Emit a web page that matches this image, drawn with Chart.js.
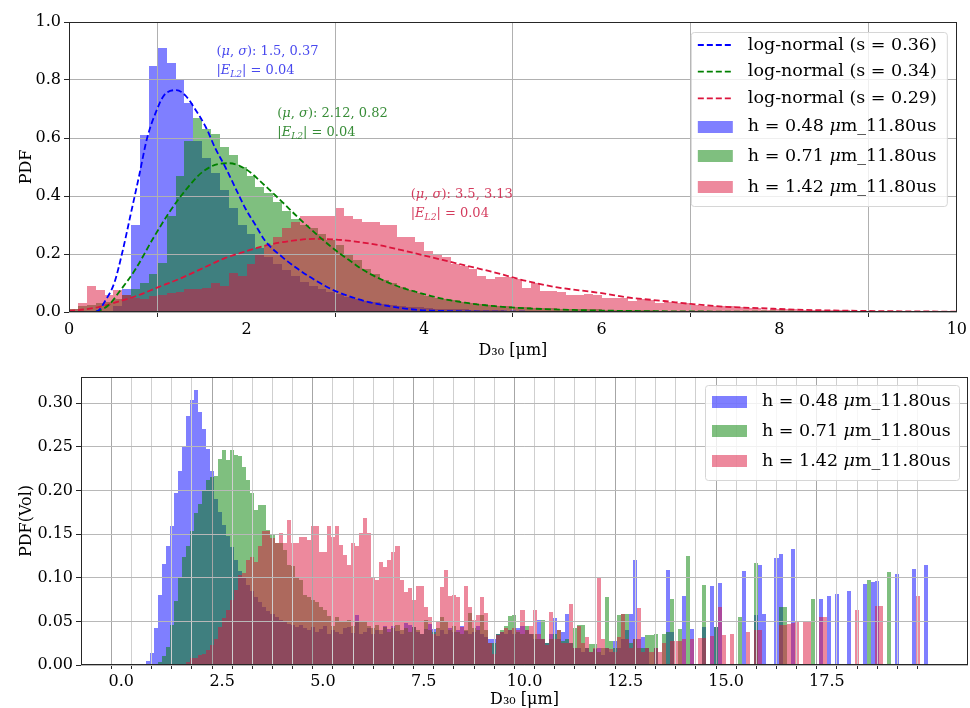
<!DOCTYPE html>
<html><head><meta charset="utf-8">
<script src="https://cdn.jsdelivr.net/npm/chart.js@4/dist/chart.umd.min.js"></script>
<style>
html,body{margin:0;padding:0;background:#fff;}
#wrap{position:relative;width:970px;height:708px;overflow:hidden;background:#fff;}
#c1{position:absolute;left:0;top:0;}
#c2{position:absolute;left:0;top:364px;}
</style></head><body>
<div id="wrap"><canvas id="c1" width="970" height="364"></canvas><canvas id="c2" width="970" height="344"></canvas></div>
<script>
// ---------------- DATA ----------------
const seriesLabels = ['h = 0.48 μm_11.80us', 'h = 0.71 μm_11.80us', 'h = 1.42 μm_11.80us'];
const fitLabels = ['log-normal (s = 0.36)', 'log-normal (s = 0.34)', 'log-normal (s = 0.29)'];
const binWidth = 0.1;

// top panel: PDF histograms, bins of 0.1 from 0 to 10
const topBlue = [0,0,0,0,0,0.02,0.08,0.30,0.61,0.85,
 0.91,0.86,0.80,0.72,0.59,0.53,0.48,0.42,0.36,0.30,
 0.27,0.22,0.19,0.165,0.145,0.125,0.105,0.09,0.08,0.07,
 0.062,0.052,0.045,0.038,0.033,0.028,0.024,0.02,0.018,0.016,
 0.014,0.012,0.011,0.01,0.009,0.008,0.007,0.006,0.006,0.005,
 0.005,0.004,0.004,0.003,0.003,0.003,0.002,0.002,0.002,0.002,
 0.001,0.001,0.001,0.001,0.001,0.001,0.001,0.001,0.001,0.001,
 0,0,0,0,0,0,0,0,0,0, 0,0,0,0,0,0,0,0,0,0, 0,0,0,0,0,0,0,0,0,0];
const topGreen = [0.01,0.02,0.025,0.03,0.035,0.045,0.06,0.08,0.10,0.13,
 0.17,0.33,0.47,0.59,0.67,0.63,0.615,0.57,0.54,0.50,
 0.47,0.43,0.41,0.38,0.35,0.32,0.30,0.29,0.27,0.25,
 0.23,0.20,0.18,0.15,0.13,0.11,0.10,0.085,0.075,0.065,
 0.055,0.05,0.045,0.04,0.035,0.03,0.028,0.025,0.022,0.02,
 0.018,0.017,0.015,0.014,0.013,0.012,0.011,0.01,0.01,0.009,
 0.008,0.008,0.007,0.007,0.006,0.006,0.005,0.005,0.005,0.004,
 0.004,0.004,0.003,0.003,0.003,0.003,0.002,0.002,0.002,0.002,
 0.002,0.002,0.001,0.001,0.001,0.001,0.001,0.001,0.001,0.001,
 0,0,0,0,0,0,0,0,0,0];
const topRed = [0.01,0.03,0.09,0.075,0.06,0.075,0.06,0.05,0.045,0.055,
 0.06,0.067,0.07,0.078,0.08,0.084,0.10,0.09,0.136,0.125,
 0.165,0.20,0.23,0.26,0.29,0.31,0.33,0.33,0.33,0.33,
 0.36,0.33,0.32,0.31,0.31,0.30,0.30,0.26,0.26,0.24,
 0.21,0.195,0.19,0.165,0.16,0.15,0.125,0.113,0.119,0.119,
 0.115,0.084,0.10,0.073,0.073,0.07,0.06,0.059,0.061,0.06,
 0.05,0.05,0.048,0.038,0.045,0.042,0.032,0.033,0.03,0.032,
 0.025,0.022,0.02,0.02,0.02,0.016,0.015,0.014,0.006,0.01,
 0.01,0.009,0.008,0.008,0.007,0.007,0.006,0.006,0.005,0.005,
 0.005,0.004,0.004,0.004,0.003,0.003,0.003,0.003,0.002,0.002];

// top panel: fitted log-normal curves
const blueFitX = [0,0.2,0.32,0.41,0.51,0.6,0.69,0.79,0.88,0.98,1.07,1.21,1.31,1.43,1.54,1.65,1.76,1.88,1.99,2.1,2.21,2.4,2.58,2.77,2.96,3.15,3.33,3.52,3.71,3.9,4.08,4.5,5,6,7,8,9,10];
const blueFitY = [0,0,0.003,0.04,0.10,0.205,0.33,0.47,0.60,0.69,0.747,0.765,0.747,0.695,0.638,0.563,0.50,0.424,0.355,0.30,0.245,0.19,0.148,0.11,0.078,0.055,0.038,0.025,0.015,0.008,0.005,0.002,0.001,0,0,0,0,0];
const greenFitX = [0,0.2,0.32,0.45,0.56,0.75,0.94,1.13,1.31,1.5,1.69,1.8,1.99,2.21,2.4,2.58,2.77,2.96,3.15,3.33,3.52,3.71,3.9,4.08,4.25,4.46,4.8,5.2,6,7,8,9,10];
const greenFitY = [0,0,0.003,0.025,0.067,0.148,0.25,0.344,0.419,0.482,0.511,0.513,0.493,0.435,0.38,0.326,0.273,0.223,0.18,0.142,0.112,0.088,0.07,0.055,0.043,0.032,0.02,0.012,0.005,0.002,0.001,0,0];
const redFitX = [0,0.2,0.4,0.6,0.8,1.0,1.25,1.5,1.75,2.0,2.25,2.5,2.75,3.0,3.25,3.5,3.75,4.0,4.4,4.8,5.15,5.5,6.0,6.3,6.7,7.0,7.4,7.8,8.2,8.9,10];
const redFitY = [0.003,0.01,0.022,0.04,0.06,0.085,0.115,0.15,0.185,0.21,0.232,0.245,0.252,0.25,0.242,0.23,0.213,0.195,0.165,0.136,0.107,0.085,0.065,0.05,0.038,0.028,0.018,0.013,0.008,0.004,0.001];

// bottom panel: PDF(Vol) histograms, bins of 0.1 from 0 to 20
const botBlue = [0,0,0,0,0,0,0.005,0.014,0.042,0.08,
 0.116,0.136,0.159,0.197,0.222,0.25,0.285,0.304,0.315,0.29,
 0.27,0.247,0.222,0.19,0.175,0.16,0.148,0.135,0.12,0.108,
 0.1,0.092,0.085,0.078,0.072,0.066,0.062,0.058,0.055,0.052,
 0.05,0.047,0.046,0.044,0.046,0.042,0.04,0.043,0.038,0.041,
 0.045,0.036,0.04,0.038,0.035,0.042,0.044,0.037,0.057,0.036,
 0.038,0.042,0.035,0.04,0.036,0.045,0.041,0.045,0.039,0.036,
 0.048,0.046,0.043,0.038,0.035,0.041,0.047,0.041,0.033,0.04,
 0.036,0.042,0.038,0.04,0.045,0.039,0.036,0.038,0.045,0.036,
 0.032,0.03,0.03,0.036,0.038,0.035,0.04,0.036,0.042,0.045,
 0.04,0.035,0.03,0.052,0.03,0.025,0.035,0.054,0.03,0.038,
 0.058,0.025,0.02,0.02,0.015,0.02,0.015,0.018,0.02,0.012,
 0.02,0.015,0.027,0.02,0.03,0.04,0.059,0.12,0.03,0.032,
 0.02,0,0.02,0,0,0.109,0.038,0,0,0.079,
 0,0.041,0,0,0.044,0,0.091,0.044,0.094,0,
 0,0,0,0,0.108,0,0,0.057,0.115,0.058,
 0,0,0.123,0.127,0,0,0.133,0,0,0,
 0,0,0,0.076,0,0.079,0,0.081,0,0,
 0.085,0,0,0,0.093,0,0.095,0.096,0,0,
 0,0,0.104,0,0,0,0.11,0,0,0.115];
const botGreen = [0,0,0,0,0,0,0,0,0,0.003,
 0.01,0.021,0.046,0.073,0.1,0.124,0.136,0.153,0.174,0.185,
 0.2,0.212,0.215,0.216,0.236,0.246,0.235,0.246,0.241,0.239,
 0.227,0.212,0.197,0.178,0.183,0.183,0.155,0.149,0.14,0.14,
 0.132,0.115,0.113,0.1,0.097,0.08,0.078,0.075,0.072,0.067,
 0.063,0.056,0.045,0.055,0.05,0.05,0.052,0.045,0.05,0.05,
 0.05,0.045,0.042,0.046,0.04,0.044,0.038,0.042,0.046,0.04,
 0.042,0.038,0.044,0.04,0.036,0.052,0.04,0.038,0.042,0.055,
 0.05,0.04,0.045,0.038,0.036,0.04,0.06,0.042,0.04,0.057,
 0.04,0.025,0.025,0.035,0.04,0.045,0.056,0.057,0.038,0.035,
 0.045,0.035,0.035,0.03,0.052,0.025,0.03,0.035,0.04,0.028,
 0.03,0.025,0.042,0.046,0.046,0.02,0.024,0.024,0.015,0.02,
 0.078,0.027,0.02,0.057,0.059,0.059,0.025,0.03,0.02,0.02,
 0.034,0.034,0.036,0,0.036,0.038,0.076,0,0.041,0,
 0.125,0,0,0,0.092,0,0,0.044,0,0,
 0,0,0,0.055,0,0,0,0.117,0,0,
 0,0,0,0.067,0.067,0,0,0,0,0,
 0,0.076,0,0,0,0,0,0,0,0,
 0,0,0,0,0,0.097,0,0,0,0,
 0.106,0,0,0,0,0,0,0,0,0];
const botRed = [0,0,0,0,0,0,0,0,0,0,
 0,0,0,0,0,0,0.003,0.008,0.008,0.011,
 0.013,0.017,0.023,0.03,0.044,0.054,0.063,0.075,0.086,0.103,
 0.105,0.12,0.124,0.118,0.136,0.153,0.153,0.145,0.14,0.151,
 0.14,0.166,0.14,0.14,0.147,0.147,0.143,0.159,0.159,0.13,
 0.13,0.159,0.147,0.159,0.138,0.126,0.115,0.14,0.136,0.151,
 0.169,0.151,0.101,0.097,0.118,0.112,0.12,0.13,0.136,0.097,
 0.084,0.088,0.075,0.091,0.091,0.067,0.055,0.036,0.05,0.089,
 0.109,0.079,0.08,0.078,0.044,0.091,0.067,0.052,0.057,0.078,
 0.06,0.025,0.013,0.034,0.038,0.042,0.04,0.042,0.04,0.063,
 0.04,0.045,0.063,0.035,0.03,0.023,0.061,0.03,0.04,0.025,
 0.025,0.07,0.02,0.045,0.025,0.032,0.015,0.02,0.1,0.03,
 0.02,0.018,0.015,0.032,0.059,0.03,0.02,0.03,0.065,0.015,
 0.02,0.015,0.02,0.015,0.025,0,0.027,0.027,0.028,0.03,
 0,0.03,0,0.031,0.031,0,0.033,0,0.067,0.034,
 0,0.035,0,0,0,0.038,0,0.04,0.04,0,
 0,0,0,0.046,0.046,0.047,0.048,0.049,0,0.05,
 0.05,0,0,0.055,0.055,0,0,0,0,0,
 0,0,0.063,0,0,0,0,0.068,0.068,0,
 0,0,0,0,0,0,0,0.079,0,0];

const topXTickStep = 2, topYTickStep = 0.2;
const botMinorStep = 0.5, botMinorCount = 40;
const botMajorLabels = [0, 2.5, 5, 7.5, 10, 12.5, 15, 17.5];
const fitNotes = [
  {x: 1.66, y: 0.886, lines: ['1.5, 0.37', '0.04'], color: 'rgba(40,40,235,0.85)'},
  {x: 2.346, y: 0.672, lines: ['2.12, 0.82', '0.04'], color: 'rgba(20,120,20,0.85)'},
  {x: 3.849, y: 0.393, lines: ['3.5, 3.13', '0.04'], color: 'rgba(205,25,65,0.85)'}
];

// ---------------- HELPERS ----------------
const FONT = "'DejaVu Serif', serif";
Chart.defaults.font.family = FONT;
Chart.defaults.font.size = 16;
Chart.defaults.color = '#000';

const C = {blue: '0,0,255', green: '0,128,0', red: '220,20,60'};
const binPts = vals => vals.map((v, i) => ({x: (i + 0.5) * binWidth, y: v}));
const curvePts = (xs, ys) => xs.map((x, i) => ({x, y: ys[i]}));

function barDS(label, vals, col, order) {
  return {type: 'bar', label, data: binPts(vals), backgroundColor: 'rgba(' + col + ',0.5)',
    borderWidth: 0, barPercentage: 1, categoryPercentage: 1, grouped: false, inflateAmount: 0, order};
}
function lineDS(label, xs, ys, col) {
  return {type: 'line', label, data: curvePts(xs, ys), borderColor: 'rgb(' + col + ')', borderWidth: 1.8,
    borderDash: [6, 3], pointRadius: 0, fill: false, cubicInterpolationMode: 'monotone', order: 0};
}

function drawRich(ctx, parts, x, y, size, color, baseline) {
  ctx.save();
  ctx.fillStyle = color; ctx.textBaseline = baseline || 'middle'; ctx.textAlign = 'left';
  let cx = x;
  for (const p of parts) {
    const o = typeof p === 'string' ? {t: p} : p;
    const s = o.sub ? size * 0.7 : size;
    ctx.font = (o.i ? 'italic ' : '') + s + 'px ' + FONT;
    ctx.fillText(o.t, cx, y + (o.sub ? size * 0.28 : 0));
    cx += ctx.measureText(o.t).width;
  }
  ctx.restore();
}
function muParts(label) {
  const out = [];
  label.split('μ').forEach((s, i) => { if (i > 0) out.push({t: 'μ', i: true}); if (s) out.push(s); });
  return out;
}
function roundRect(ctx, x, y, w, h, r) {
  ctx.beginPath();
  ctx.moveTo(x + r, y); ctx.lineTo(x + w - r, y); ctx.arcTo(x + w, y, x + w, y + r, r);
  ctx.lineTo(x + w, y + h - r); ctx.arcTo(x + w, y + h, x + w - r, y + h, r);
  ctx.lineTo(x + r, y + h); ctx.arcTo(x, y + h, x, y + h - r, r);
  ctx.lineTo(x, y + r); ctx.arcTo(x, y, x + r, y, r); ctx.closePath();
}

// snap bar edges to whole pixels so adjacent translucent bars show no seams
const snapBars = {
  id: 'snapBars',
  beforeDatasetDraw(chart, args) {
    if (args.meta.type !== 'bar') return;
    args.meta.data.forEach(el => {
      const l = Math.round(el.x - el.width / 2), r = Math.round(el.x + el.width / 2);
      el.x = (l + r) / 2; el.width = r - l;
      el.y = Math.round(el.y); el.base = Math.round(el.base);
    });
  }
};
// grid drawn over the histogram bars but under the fitted lines (matplotlib default)
const gridOverBars = {
  id: 'gridOverBars',
  afterDatasetDraw(chart, args, opts) {
    if (args.index === opts.after) {
      const ca = chart.chartArea;
      chart.scales.x.drawGrid(ca); chart.scales.y.drawGrid(ca);
    }
  }
};
const frame = {
  id: 'frame',
  afterDatasetsDraw(chart) {
    const {ctx, chartArea: a} = chart;
    ctx.save(); ctx.strokeStyle = '#262626'; ctx.lineWidth = 1;
    ctx.strokeRect(Math.round(a.left) + 0.5, Math.round(a.top) + 0.5, Math.round(a.right - a.left) - 1, Math.round(a.bottom - a.top) - 1);
    ctx.restore();
  }
};
const mplLegend = {
  id: 'mplLegend',
  afterDraw(chart, args, L) {
    const {ctx, chartArea: ca} = chart;
    const x0 = ca.right - L.right - L.w, y0 = ca.top + L.top;
    ctx.save();
    roundRect(ctx, x0 + 0.5, y0 + 0.5, L.w, L.h, 3);
    ctx.fillStyle = 'rgba(255,255,255,0.8)'; ctx.fill();
    ctx.strokeStyle = '#d6d6d6'; ctx.lineWidth = 1; ctx.stroke();
    L.order.forEach((di, r) => {
      const ds = chart.data.datasets[di];
      const cy = y0 + L.rows[r];
      if (ds.type === 'line') {
        ctx.setLineDash([6, 3]); ctx.strokeStyle = ds.borderColor; ctx.lineWidth = 1.8;
        ctx.beginPath(); ctx.moveTo(x0 + L.sx, cy); ctx.lineTo(x0 + L.sx + L.sw, cy); ctx.stroke(); ctx.setLineDash([]);
      } else {
        ctx.fillStyle = ds.backgroundColor; ctx.fillRect(x0 + L.sx, Math.round(cy - 6), L.sw, 12);
      }
      drawRich(ctx, muParts(ds.label), x0 + L.tx, cy, 17.5, '#000');
    });
    ctx.restore();
  }
};
const fitNotesPlugin = {
  id: 'fitNotes',
  afterDatasetsDraw(chart, args, opts) {
    const {ctx, scales: {x, y}} = chart;
    (opts.notes || []).forEach(n => {
      const px = x.getPixelForValue(n.x), py = y.getPixelForValue(n.y);
      drawRich(ctx, ['(', {t: 'μ', i: true}, ', ', {t: 'σ', i: true}, '): ' + n.lines[0]], px, py, 13, n.color, 'alphabetic');
      drawRich(ctx, ['|', {t: 'E', i: true}, {t: 'L2', i: true, sub: true}, '| = ' + n.lines[1]], px, py + 18.5, 13, n.color, 'alphabetic');
    });
  }
};

const tickFont = {family: FONT, size: 16};

// ---------------- TOP CHART ----------------
new Chart(document.getElementById('c1'), {
  type: 'bar',
  data: {datasets: [
    lineDS(fitLabels[0], blueFitX, blueFitY, C.blue),
    lineDS(fitLabels[1], greenFitX, greenFitY, C.green),
    lineDS(fitLabels[2], redFitX, redFitY, C.red),
    barDS(seriesLabels[0], topBlue, C.blue, 3),
    barDS(seriesLabels[1], topGreen, C.green, 2),
    barDS(seriesLabels[2], topRed, C.red, 1)
  ]},
  options: {
    responsive: false, animation: false, events: [],
    layout: {padding: {left: 0, top: 22, right: 9, bottom: 0}},
    plugins: {
      legend: {display: false}, tooltip: {enabled: false},
      gridOverBars: {after: 5},
      mplLegend: {order: [0, 1, 2, 3, 4, 5], right: 10, top: 10, w: 256, h: 174,
        rows: [13, 39.7, 66.3, 94.7, 124.3, 155], sx: 7, sw: 35, tx: 57},
      fitNotes: {notes: fitNotes}
    },
    scales: {
      x: {type: 'linear', min: 0, max: 10, offset: false,
        ticks: {stepSize: topXTickStep, font: tickFont, color: '#000', padding: 3, maxRotation: 0, autoSkip: false},
        grid: {color: '#b0b0b0', lineWidth: 1, tickColor: '#262626', tickLength: 5},
        border: {display: false},
        title: {display: true, text: 'D₃₀ [μm]', font: tickFont, color: '#000', padding: {top: 0, bottom: 4}},
        afterFit(s) { s.height = 52; }},
      y: {type: 'linear', min: 0, max: 1.0,
        ticks: {stepSize: topYTickStep, font: tickFont, color: '#000', padding: 3, callback: v => v.toFixed(1)},
        grid: {color: '#b0b0b0', lineWidth: 1, tickColor: '#262626', tickLength: 5},
        border: {display: false},
        title: {display: true, text: 'PDF', font: tickFont, color: '#000', padding: {top: 17, bottom: 0}},
        afterFit(s) { s.width = 69; }}
    }
  },
  plugins: [snapBars, gridOverBars, frame, fitNotesPlugin, mplLegend]
});

// ---------------- BOTTOM CHART ----------------
const minorTicks = Array.from({length: botMinorCount}, (_, i) => i * botMinorStep);
const isMajor = v => botMajorLabels.some(m => Math.abs(m - v) < 1e-9);
new Chart(document.getElementById('c2'), {
  type: 'bar',
  data: {datasets: [
    barDS(seriesLabels[0], botBlue, C.blue, 3),
    barDS(seriesLabels[1], botGreen, C.green, 2),
    barDS(seriesLabels[2], botRed, C.red, 1)
  ]},
  options: {
    responsive: false, animation: false, events: [],
    layout: {padding: {left: 0, top: 13, right: 2, bottom: 0}},
    plugins: {
      legend: {display: false}, tooltip: {enabled: false},
      gridOverBars: {after: 2},
      mplLegend: {order: [0, 1, 2], right: 9, top: 8, w: 254, h: 95,
        rows: [16.5, 46, 76], sx: 7, sw: 35, tx: 57}
    },
    scales: {
      x: {type: 'linear', min: -1, max: 21, offset: false,
        afterBuildTicks(s) { s.ticks = minorTicks.map(v => ({value: v})); },
        ticks: {font: tickFont, color: '#000', padding: 3, maxRotation: 0, autoSkip: false,
          callback: v => isMajor(v) ? v.toFixed(1) : ''},
        grid: {color: c => (c.tick && isMajor(c.tick.value)) ? '#a6a6a6' : '#cfcfcf', lineWidth: 1,
          tickColor: '#262626', tickLength: 4},
        border: {display: false},
        title: {display: true, text: 'D₃₀ [μm]', font: tickFont, color: '#000', padding: {top: 0, bottom: -1}},
        afterFit(s) { s.height = 43; }},
      y: {type: 'linear', min: 0, max: 0.33,
        ticks: {stepSize: 0.05, includeBounds: false, font: tickFont, color: '#000', padding: 3, callback: v => v.toFixed(2)},
        grid: {color: '#b8b8b8', lineWidth: 1, tickColor: '#262626', tickLength: 5},
        border: {display: false},
        title: {display: true, text: 'PDF(Vol)', font: tickFont, color: '#000', padding: {top: 17, bottom: 0}},
        afterFit(s) { s.width = 81; }}
    }
  },
  plugins: [snapBars, gridOverBars, frame, mplLegend]
});
</script>
</body></html>
